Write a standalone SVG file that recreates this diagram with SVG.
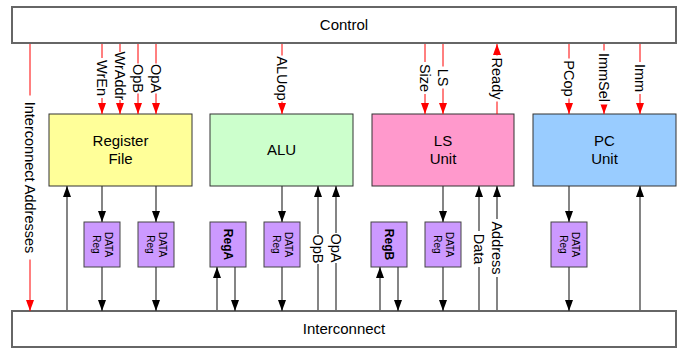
<svg xmlns="http://www.w3.org/2000/svg" width="683" height="348" viewBox="0 0 683 348">
<style>
text{font-family:"Liberation Sans",Arial,sans-serif;fill:#000}
.bus{fill:#fff;stroke:#666;stroke-width:2}
.node{stroke:#333;stroke-width:1}
.reg{fill:#cc99ff;stroke:#444;stroke-width:1}
.t15{font-size:15px;text-anchor:middle}
.lbl{font-size:14.5px;text-anchor:middle}
.small{font-size:10px;text-anchor:middle}
.bold{font-size:12px;font-weight:bold;text-anchor:middle}
.red{stroke:#ff0000;stroke-width:1;fill:none}
.blk{stroke:#333;stroke-width:1.2;fill:none}
.bg{fill:#fff}
</style>
<defs>
<marker id="ar" viewBox="0 0 11 8" refX="11" refY="4" markerWidth="11" markerHeight="8" markerUnits="userSpaceOnUse" orient="auto"><path d="M0,0 L11,4 L0,8 z" fill="#ff0000"/></marker>
<marker id="ab" viewBox="0 0 11 8" refX="11" refY="4" markerWidth="11" markerHeight="8" markerUnits="userSpaceOnUse" orient="auto"><path d="M0,0 L11,4 L0,8 z" fill="#000"/></marker>
</defs>

<g id="control"><rect class="bus" x="12" y="7" width="664" height="36"/><text class="t15" x="344" y="30">Control</text></g>
<g id="interconnect"><rect class="bus" x="12" y="311" width="664" height="36"/><text class="t15" x="344" y="334">Interconnect</text></g>

<g id="regfile"><rect class="node" x="49" y="114" width="143" height="72" fill="#ffff99"/><text class="t15" x="120.5" y="146">Register</text><text class="t15" x="120.5" y="164">File</text></g>
<g id="alu"><rect class="node" x="210" y="114" width="143" height="72" fill="#ccffcc"/><text class="t15" x="281.5" y="155">ALU</text></g>
<g id="lsunit"><rect class="node" x="372" y="114" width="142" height="72" fill="#ff99cc"/><text class="t15" x="443" y="146">LS</text><text class="t15" x="443" y="164">Unit</text></g>
<g id="pcunit"><rect class="node" x="533" y="114" width="143" height="72" fill="#99ccff"/><text class="t15" x="604.5" y="146">PC</text><text class="t15" x="604.5" y="164">Unit</text></g>

<g id="datareg1"><rect class="reg" x="84" y="222" width="36" height="45"/><g transform="translate(102,244.5) rotate(90)"><text class="small" y="-2.8">DATA</text><text class="small" y="8.8">Reg</text></g></g>
<g id="datareg2"><rect class="reg" x="138" y="222" width="36" height="45"/><g transform="translate(156,244.5) rotate(90)"><text class="small" y="-2.8">DATA</text><text class="small" y="8.8">Reg</text></g></g>
<g id="rega"><rect class="reg" x="210" y="222" width="36" height="45"/><text class="bold" transform="translate(228,244.5) rotate(90)" y="4.2">RegA</text></g>
<g id="datareg3"><rect class="reg" x="264" y="222" width="36" height="45"/><g transform="translate(282,244.5) rotate(90)"><text class="small" y="-2.8">DATA</text><text class="small" y="8.8">Reg</text></g></g>
<g id="regb"><rect class="reg" x="371" y="222" width="36" height="45"/><text class="bold" transform="translate(389,244.5) rotate(90)" y="4.2">RegB</text></g>
<g id="datareg4"><rect class="reg" x="425" y="222" width="36" height="45"/><g transform="translate(443,244.5) rotate(90)"><text class="small" y="-2.8">DATA</text><text class="small" y="8.8">Reg</text></g></g>
<g id="datareg5"><rect class="reg" x="551" y="222" width="36" height="45"/><g transform="translate(569,244.5) rotate(90)"><text class="small" y="-2.8">DATA</text><text class="small" y="8.8">Reg</text></g></g>

<g id="connectors">
<g class="red">
<line x1="30" y1="44" x2="30" y2="311" marker-end="url(#ar)"/>
<line x1="102" y1="44" x2="102" y2="114" marker-end="url(#ar)"/>
<line x1="120" y1="44" x2="120" y2="114" marker-end="url(#ar)"/>
<line x1="138" y1="44" x2="138" y2="114" marker-end="url(#ar)"/>
<line x1="156" y1="44" x2="156" y2="114" marker-end="url(#ar)"/>
<line x1="282" y1="44" x2="282" y2="114" marker-end="url(#ar)"/>
<line x1="425" y1="44" x2="425" y2="114" marker-end="url(#ar)"/>
<line x1="443" y1="44" x2="443" y2="114" marker-end="url(#ar)"/>
<line x1="497" y1="114" x2="497" y2="44" marker-end="url(#ar)"/>
<line x1="569" y1="44" x2="569" y2="114" marker-end="url(#ar)"/>
<line x1="604" y1="44" x2="604" y2="114" marker-end="url(#ar)"/>
<line x1="640" y1="44" x2="640" y2="114" marker-end="url(#ar)"/>
</g>
<g class="blk">
<line x1="67" y1="310" x2="67" y2="186" marker-end="url(#ab)"/>
<line x1="102" y1="186" x2="102" y2="222" marker-end="url(#ab)"/>
<line x1="102" y1="267" x2="102" y2="311" marker-end="url(#ab)"/>
<line x1="156" y1="186" x2="156" y2="222" marker-end="url(#ab)"/>
<line x1="156" y1="267" x2="156" y2="311" marker-end="url(#ab)"/>
<line x1="217" y1="310" x2="217" y2="267" marker-end="url(#ab)"/>
<line x1="235" y1="267" x2="235" y2="311" marker-end="url(#ab)"/>
<line x1="282" y1="186" x2="282" y2="222" marker-end="url(#ab)"/>
<line x1="282" y1="267" x2="282" y2="311" marker-end="url(#ab)"/>
<line x1="318" y1="310" x2="318" y2="186" marker-end="url(#ab)"/>
<line x1="336" y1="310" x2="336" y2="186" marker-end="url(#ab)"/>
<line x1="380" y1="310" x2="380" y2="267" marker-end="url(#ab)"/>
<line x1="398" y1="267" x2="398" y2="311" marker-end="url(#ab)"/>
<line x1="443" y1="186" x2="443" y2="222" marker-end="url(#ab)"/>
<line x1="443" y1="267" x2="443" y2="311" marker-end="url(#ab)"/>
<line x1="479" y1="310" x2="479" y2="186" marker-end="url(#ab)"/>
<line x1="497" y1="310" x2="497" y2="186" marker-end="url(#ab)"/>
<line x1="569" y1="186" x2="569" y2="222" marker-end="url(#ab)"/>
<line x1="569" y1="267" x2="569" y2="311" marker-end="url(#ab)"/>
<line x1="640" y1="310" x2="640" y2="186" marker-end="url(#ab)"/>
</g>
<g id="labels">
<g transform="translate(30,177.5) rotate(90)"><rect class="bg" x="-82" y="-7" width="164" height="14"/><text class="lbl" y="5">Interconnect Addresses</text></g>
<g transform="translate(102,78) rotate(90)"><rect class="bg" x="-20" y="-7" width="40" height="14"/><text class="lbl" y="5">WrEn</text></g>
<g transform="translate(120,76) rotate(90)"><rect class="bg" x="-24" y="-7" width="48" height="14"/><text class="lbl" y="5">WrAddr</text></g>
<g transform="translate(138,78.5) rotate(90)"><rect class="bg" x="-15" y="-7" width="30" height="14"/><text class="lbl" y="5">OpB</text></g>
<g transform="translate(156,78.5) rotate(90)"><rect class="bg" x="-15" y="-7" width="30" height="14"/><text class="lbl" y="5">OpA</text></g>
<g transform="translate(282,78.5) rotate(90)"><rect class="bg" x="-23" y="-7" width="46" height="14"/><text class="lbl" y="5">ALUop</text></g>
<g transform="translate(425,78) rotate(90)"><rect class="bg" x="-16" y="-7" width="32" height="14"/><text class="lbl" y="5">Size</text></g>
<g transform="translate(443,77.5) rotate(90)"><rect class="bg" x="-11" y="-7" width="22" height="14"/><text class="lbl" y="5">LS</text></g>
<g transform="translate(497,78.5) rotate(90)"><rect class="bg" x="-23" y="-7" width="46" height="14"/><text class="lbl" y="5">Ready</text></g>
<g transform="translate(569,78.5) rotate(90)"><rect class="bg" x="-20" y="-7" width="40" height="14"/><text class="lbl" y="5">PCop</text></g>
<g transform="translate(604,77.5) rotate(90)"><rect class="bg" x="-27" y="-7" width="54" height="14"/><text class="lbl" y="5">ImmSel</text></g>
<g transform="translate(640,78) rotate(90)"><rect class="bg" x="-16" y="-7" width="32" height="14"/><text class="lbl" y="5">Imm</text></g>
<g transform="translate(318,249) rotate(90)"><rect class="bg" x="-15" y="-7" width="30" height="14"/><text class="lbl" y="5">OpB</text></g>
<g transform="translate(336,248) rotate(90)"><rect class="bg" x="-15" y="-7" width="30" height="14"/><text class="lbl" y="5">OpA</text></g>
<g transform="translate(479,249) rotate(90)"><rect class="bg" x="-18" y="-7" width="36" height="14"/><text class="lbl" y="5">Data</text></g>
<g transform="translate(497,248) rotate(90)"><rect class="bg" x="-29" y="-7" width="58" height="14"/><text class="lbl" y="5">Address</text></g>
</g>
</g>
</svg>
